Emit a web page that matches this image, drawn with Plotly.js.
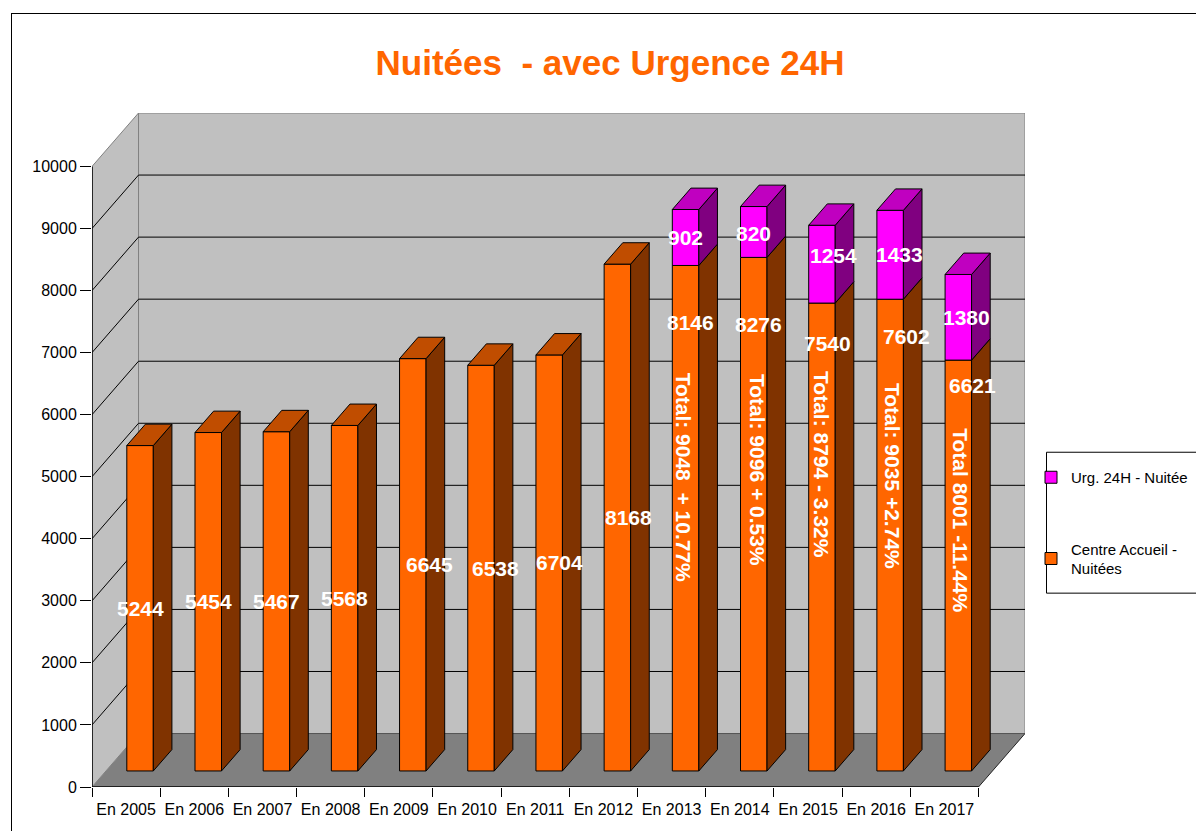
<!DOCTYPE html>
<html>
<head>
<meta charset="utf-8">
<script src="https://cdn.plot.ly/plotly-3.0.1.min.js"></script>
<style>
  html, body { margin: 0; padding: 0; background: #fff; overflow: hidden; }
  #chart { width: 1196px; height: 831px; }
  #frame { position: absolute; left: 11px; top: 13px; width: 1300px; height: 900px;
           border-left: 1.5px solid #000; border-top: 1.5px solid #000; pointer-events: none; }
</style>
</head>
<body>
<div id="chart"></div>
<div id="frame"></div>
<script>
// ---------------- data ----------------
const years = ['En 2005','En 2006','En 2007','En 2008','En 2009','En 2010','En 2011',
               'En 2012','En 2013','En 2014','En 2015','En 2016','En 2017'];
const centreAccueil = [5244, 5454, 5467, 5568, 6645, 6538, 6704, 8168, 8146, 8276, 7540, 7602, 6621];
const urgence24h    = [null, null, null, null, null, null, null, null, 902, 820, 1254, 1433, 1380];
const totalLabels   = [null, null, null, null, null, null, null, null,
                       'Total: 9048  + 10.77%', 'Total: 9096 + 0.53%', 'Total: 8794 - 3.32%',
                       'Total: 9035 +2.74%', 'Total 8001 -11.44%'];
const yTickValues   = [0, 1000, 2000, 3000, 4000, 5000, 6000, 7000, 8000, 9000, 10000];
const seriesNames   = ['Centre Accueil -<br>Nuitées', 'Urg. 24H - Nuitée'];

// ---------------- geometry (pixels -> data units) ----------------
const W = 1196, H = 831;
const leftPx = 92, floorFrontPx = 787, frontRightPx = 978, topTickPx = 166;
const depthPx = { x: 46.5, y: 53.5 };
const nCat = years.length;
const pxPerCat = (frontRightPx - leftPx) / nCat;
const DXc = depthPx.x / pxPerCat;
const yMax = 10000;
const pxPerUnit = (floorFrontPx - topTickPx) / yMax;
const DY = depthPx.y / pxPerUnit;
const plotW = nCat * pxPerCat + depthPx.x;
const plotH = yMax * pxPerUnit + depthPx.y;
const X0 = -0.5, X1 = nCat - 0.5;

const barW = 26.5 / pxPerCat;   // front face width
const d0 = 0.3, dd = 0.4;       // depth start / thickness (fractions)
const base0 = d0 * DY;
const cx = years.map((_, i) => i + d0 * DXc);

const C = {
  orange: '#FF6600', orangeTop: '#C04D00', orangeSide: '#803300',
  magenta: '#FF00FF', magentaTop: '#C000C0', magentaSide: '#800080',
  wall: '#C0C0C0', floor: '#808080'
};
const FONT = 'Liberation Sans, Arial, sans-serif';

// ---------------- traces ----------------
function faces(bottoms, tops, kind) {
  const xs = [], ys = [];
  for (let i = 0; i < nCat; i++) {
    if (bottoms[i] == null || tops[i] == null) continue;
    const xl = cx[i] - barW / 2, xr = cx[i] + barW / 2;
    const ddx = dd * DXc, ddy = dd * DY;
    if (kind === 'side') {
      xs.push(xr, xr + ddx, xr + ddx, xr, xr, null);
      ys.push(bottoms[i], bottoms[i] + ddy, tops[i] + ddy, tops[i], bottoms[i], null);
    } else {
      xs.push(xl, xr, xr + ddx, xl + ddx, xl, null);
      ys.push(tops[i], tops[i], tops[i] + ddy, tops[i] + ddy, tops[i], null);
    }
  }
  return { xs, ys };
}
const oBottom = centreAccueil.map(() => base0);
const oTop = centreAccueil.map(v => base0 + v);
const mBottom = urgence24h.map((u, i) => u == null ? null : base0 + centreAccueil[i]);
const mTop = urgence24h.map((u, i) => u == null ? null : base0 + centreAccueil[i] + u);
const oTopOnly = oTop.map((t, i) => urgence24h[i] == null ? t : null);

function polyTrace(f, fill) {
  return { type: 'scatter', mode: 'lines', x: f.xs, y: f.ys, fill: 'toself', fillcolor: fill,
           line: { color: '#000', width: 1 }, hoverinfo: 'skip', showlegend: false };
}

const traces = [
  { type: 'bar', name: seriesNames[0], legendgroup: 'a', legendrank: 2, x: cx, y: centreAccueil, base: base0,
    width: barW, marker: { color: C.orange, line: { color: '#000', width: 1 } } },
  { type: 'bar', name: seriesNames[1], legendgroup: 'b', legendrank: 1, x: cx, y: urgence24h,
    base: mBottom.map(b => b == null ? 0 : b),
    width: barW, marker: { color: C.magenta, line: { color: '#000', width: 1 } } },
  polyTrace(faces(oBottom, oTop, 'side'), C.orangeSide),
  polyTrace(faces(oBottom, oTopOnly, 'top'), C.orangeTop),
  polyTrace(faces(mBottom, mTop, 'side'), C.magentaSide),
  polyTrace(faces(mBottom, mTop, 'top'), C.magentaTop)
];

// ---------------- walls / grid shapes ----------------
const shapes = [];
const P = (pts) => 'M ' + pts.map(p => p[0] + ',' + p[1]).join(' L ') + ' Z';
shapes.push({ type: 'path', xref: 'x', yref: 'y', layer: 'below',
  path: P([[X0 + DXc, DY], [X1 + DXc, DY], [X1 + DXc, yMax + DY], [X0 + DXc, yMax + DY]]),
  fillcolor: C.wall, line: { color: '#808080', width: 1 } });
shapes.push({ type: 'path', xref: 'x', yref: 'y', layer: 'below',
  path: P([[X0, 0], [X0 + DXc, DY], [X0 + DXc, yMax + DY], [X0, yMax]]),
  fillcolor: C.wall, line: { color: '#808080', width: 1 } });
shapes.push({ type: 'path', xref: 'x', yref: 'y', layer: 'below',
  path: P([[X0, 0], [X1, 0], [X1 + DXc, DY], [X0 + DXc, DY]]),
  fillcolor: C.floor, line: { width: 0 } });
yTickValues.forEach(v => {
  if (v === 0 || v === yMax) return;
  shapes.push({ type: 'line', xref: 'x', yref: 'y', layer: 'below',
    x0: X0 + DXc, x1: X1 + DXc, y0: v + DY, y1: v + DY, line: { color: '#000', width: 1 } });
  shapes.push({ type: 'line', xref: 'x', yref: 'y', layer: 'below',
    x0: X0, x1: X0 + DXc, y0: v, y1: v + DY, line: { color: '#000', width: 1 } });
});
shapes.push({ type: 'line', xref: 'x', yref: 'y', layer: 'below',
  x0: X0 + DXc, x1: X1 + DXc, y0: DY, y1: DY, line: { color: '#555', width: 1 } });
shapes.push({ type: 'line', xref: 'x', yref: 'y', layer: 'below',
  x0: X1, x1: X1 + DXc, y0: 0, y1: DY, line: { color: '#222', width: 1 } });
shapes.push({ type: 'line', xref: 'x', yref: 'y', layer: 'below',
  x0: X0, x1: X1, y0: 0, y1: 0, line: { color: '#000', width: 1.5 } });
shapes.push({ type: 'line', xref: 'x', yref: 'y', layer: 'below',
  x0: X0, x1: X0, y0: 0, y1: yMax, line: { color: '#000', width: 1.5 } });
// legend frame
const px2paperX = px => (px - leftPx) / plotW;
const px2paperY = py => (floorFrontPx - py) / plotH;
shapes.push({ type: 'rect', xref: 'paper', yref: 'paper', layer: 'below',
  x0: px2paperX(1046), x1: px2paperX(1215), y0: px2paperY(593), y1: px2paperY(452),
  fillcolor: '#fff', line: { color: '#000', width: 1 } });

// ---------------- labels ----------------
const labelFont = { family: FONT, size: 21, color: '#fff' };
const orangeNudgeX = [0, 0, 0, 0, 17, 14, 10, 11, 5, 5, 6, 16, 14];
const orangeDropPx = [null, null, null, null, null, null, null, null, 57, 67, 40, 37, 25];
const magentaNudge = { x: [0, 0, 12, 9, 8], y: [0, -2, 9, 0, 0] };
const totalNudge = { x: [-2, 4.5, 0, 3, 2], y: [41, 44, 72, 59, 45] };
const annotations = [];
centreAccueil.forEach((v, i) => {
  const stacked = urgence24h[i] != null;
  annotations.push({ x: cx[i], y: stacked ? base0 + v : base0 + v / 2, xref: 'x', yref: 'y',
    text: '<b>' + v + '</b>', showarrow: false, font: labelFont,
    xshift: orangeNudgeX[i], yshift: stacked ? -orangeDropPx[i] : 0 });
});
let k = 0;
urgence24h.forEach((u, i) => {
  if (u == null) return;
  annotations.push({ x: cx[i], y: base0 + centreAccueil[i] + u / 2, xref: 'x', yref: 'y',
    text: '<b>' + u + '</b>', showarrow: false, font: labelFont,
    xshift: magentaNudge.x[k], yshift: magentaNudge.y[k] });
  annotations.push({ x: cx[i], y: base0 + centreAccueil[i] / 2, xref: 'x', yref: 'y',
    text: '<b>' + totalLabels[i] + '</b>', textangle: 90, showarrow: false, font: labelFont,
    xshift: totalNudge.x[k], yshift: totalNudge.y[k] });
  k++;
});

// ---------------- layout ----------------
const layout = {
  width: W, height: H, autosize: false,
  margin: { l: leftPx, r: W - leftPx - plotW, t: floorFrontPx - plotH, b: H - floorFrontPx, pad: 0 },
  paper_bgcolor: '#fff', plot_bgcolor: 'rgba(0,0,0,0)',
  font: { family: FONT, color: '#000' },
  title: { text: '<b>Nuitées  - avec Urgence 24H</b>', xref: 'container', yref: 'container',
    x: 610 / W, y: 1 - 63 / H, xanchor: 'center', yanchor: 'middle',
    font: { family: FONT, size: 35, color: '#FF6600' } },
  barmode: 'overlay',
  showlegend: true,
  legend: { xref: 'container', yref: 'container', x: 1031 / W, y: 1 - 461 / H,
    xanchor: 'left', yanchor: 'top',
    bgcolor: 'rgba(0,0,0,0)', borderwidth: 0, traceorder: 'grouped', tracegroupgap: 49,
    font: { size: 15, family: FONT, color: '#000' } },
  xaxis: { range: [X0, X1 + DXc], tickmode: 'array', tickvals: years.map((_, i) => i), ticktext: years,
    ticks: '', showline: false, showgrid: false, zeroline: false, fixedrange: true,
    ticklabelstandoff: 11, automargin: false,
    tickfont: { size: 16, family: FONT, color: '#000' },
    minor: { tickmode: 'array', tickvals: years.map((_, i) => i - 0.5).concat([X1]),
             ticks: 'outside', ticklen: 9, tickcolor: '#000', tickwidth: 1, showgrid: false } },
  yaxis: { range: [0, yMax + DY], tickmode: 'array', tickvals: yTickValues,
    ticktext: yTickValues.map(String), ticks: 'outside', ticklen: 11, tickcolor: '#000',
    showline: false, showgrid: false, zeroline: false, fixedrange: true, automargin: false,
    tickfont: { size: 16, family: FONT, color: '#000' } },
  shapes: shapes,
  annotations: annotations
};

Plotly.newPlot('chart', traces, layout, { staticPlot: true, displayModeBar: false });
</script>
</body>
</html>
